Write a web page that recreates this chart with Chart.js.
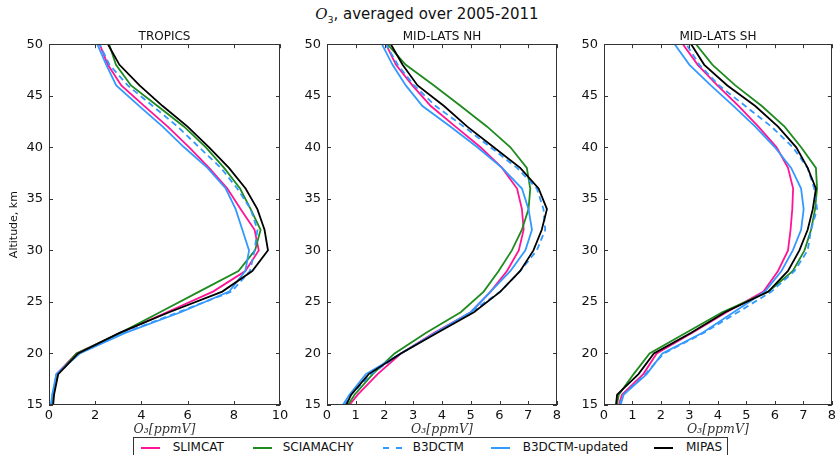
<!DOCTYPE html>
<html>
<head>
<meta charset="utf-8">
<script src="https://cdn.jsdelivr.net/npm/chart.js@4/dist/chart.umd.min.js"></script>
<style>
  html, body { margin: 0; padding: 0; background: #fff; overflow: hidden; }
  body { width: 838px; height: 455px; position: relative; font-family: "DejaVu Sans", sans-serif; }
  canvas { position: absolute; }
  #title { position: absolute; left: 0; width: 854px; top: 5px; text-align: center; font-size: 15px; color: #111; }
  #title i { font-family: "DejaVu Serif", serif; }
  #title sub { font-size: 9px; }
  #legend { position: absolute; left: 133px; top: 437px; width: 593px; height: 24px; border: 1px solid #333; background: #fff; }
  .item { position: absolute; top: 1px; font-size: 12px; color: #111; line-height: 16px; }
  .swatch { position: absolute; top: 9px; width: 19px; height: 0; border-top: 2px solid; }
</style>
</head>
<body>
<div id="title"><i>O</i><sub>3</sub>, averaged over 2005-2011</div>
<canvas id="c1" width="292" height="414" style="left:0px;top:27px"></canvas>
<canvas id="c2" width="282" height="414" style="left:287px;top:27px"></canvas>
<canvas id="c3" width="275" height="414" style="left:564px;top:27px"></canvas>
<div id="legend"></div>
<script>
// altitude levels, km
const altitudes = [15, 16, 18, 20, 22, 24, 26, 28, 30, 32, 34, 36, 38, 40, 42, 44, 46, 48, 50];

// TROPICS, ppmV
const tropicsSlimcat  = [0.11, 0.18, 0.32, 1.19, 3.1, 5.1, 7.1, 8.5, 9.08, 8.9, 8.3, 7.72, 6.93, 6.07, 5.14, 4.13, 3.13, 2.55, 2.19];
const tropicsSciamachy = [0.14, 0.18, 0.37, 1.19, 3.1, 4.8, 6.5, 8.2, 8.92, 9.16, 8.73, 8.27, 7.58, 6.79, 5.85, 4.7, 3.55, 2.9, 2.6];
const tropicsB3dctm   = [0.1, 0.15, 0.35, 1.3, 3.25, 5.6, 7.9, 8.7, 8.9, 9.02, 8.73, 8.15, 7.44, 6.5, 5.57, 4.49, 3.41, 2.62, 2.19];
const tropicsUpdated  = [0.08, 0.14, 0.32, 1.33, 3.3, 5.7, 7.8, 8.5, 8.66, 8.37, 8.08, 7.65, 6.86, 5.85, 4.92, 3.91, 2.91, 2.48, 2.09];
const tropicsMipas    = [0.18, 0.22, 0.4, 1.26, 3.05, 5.2, 7.5, 8.8, 9.48, 9.33, 9.02, 8.51, 7.79, 6.93, 6.0, 4.92, 3.92, 3.05, 2.55];

// MID-LATS NH
const nhSlimcat   = [0.78, 1.07, 1.76, 2.57, 3.73, 5.0, 5.69, 6.26, 6.67, 6.84, 6.78, 6.61, 6.09, 5.34, 4.47, 3.61, 2.97, 2.4, 2.05];
const nhSciamachy = [0.73, 0.96, 1.59, 2.35, 3.45, 4.65, 5.45, 5.97, 6.43, 6.78, 7.01, 7.07, 6.95, 6.38, 5.57, 4.65, 3.72, 2.74, 2.1];
const nhB3dctm    = [0.61, 0.84, 1.53, 2.57, 3.78, 5.0, 6.03, 6.72, 7.3, 7.59, 7.53, 7.3, 6.61, 5.69, 4.76, 3.78, 3.03, 2.46, 2.05];
const nhUpdated   = [0.55, 0.78, 1.35, 2.57, 3.78, 5.0, 5.69, 6.38, 6.9, 7.13, 7.01, 6.78, 6.09, 5.23, 4.3, 3.32, 2.74, 2.28, 1.91];
const nhMipas     = [0.67, 0.84, 1.45, 2.57, 3.84, 5.11, 6.03, 6.72, 7.18, 7.47, 7.65, 7.36, 6.72, 5.8, 4.88, 4.07, 3.15, 2.63, 2.22];

// MID-LATS SH
const shSlimcat   = [0.52, 0.63, 1.38, 1.85, 3.1, 4.3, 5.6, 6.11, 6.46, 6.55, 6.61, 6.64, 6.46, 6.06, 5.42, 4.73, 3.98, 3.29, 2.77];
const shSciamachy = [0.45, 0.52, 1.04, 1.6, 2.88, 4.15, 5.77, 6.63, 7.04, 7.27, 7.41, 7.48, 7.44, 6.92, 6.34, 5.54, 4.61, 3.81, 3.23];
const shB3dctm    = [0.55, 0.68, 1.45, 2.1, 3.5, 4.7, 5.88, 6.69, 7.15, 7.27, 7.48, 7.38, 7.15, 6.63, 5.88, 4.96, 4.04, 3.35, 2.89];
const shUpdated   = [0.58, 0.69, 1.5, 2.05, 3.46, 4.55, 5.65, 6.23, 6.63, 6.92, 7.01, 6.92, 6.57, 6.0, 5.31, 4.55, 3.75, 3.0, 2.48];
const shMipas     = [0.42, 0.46, 1.21, 1.75, 3.06, 4.25, 5.77, 6.46, 6.86, 7.15, 7.33, 7.44, 7.15, 6.75, 6.11, 5.31, 4.33, 3.52, 3.06];

const seriesNames  = ['SLIMCAT', 'SCIAMACHY', 'B3DCTM', 'B3DCTM-updated', 'MIPAS'];
const seriesColors = ['#ff1493', '#1f8a1f', '#3399ff', '#3399ff', '#000000'];
const seriesDashed = [false, false, true, false, false];

// ticks pointing into the plot on all four sides + frame
const innerTicks = {
    id: 'innerTicks',
    afterDraw(chart) {
        const { ctx, chartArea: a, scales } = chart;
        ctx.save();
        ctx.strokeStyle = '#333';
        ctx.lineWidth = 1;
        ctx.beginPath();
        scales.x.ticks.forEach(t => {
            const px = Math.round(scales.x.getPixelForValue(t.value)) + 0.5;
            ctx.moveTo(px, a.top); ctx.lineTo(px, a.top + 4);
            ctx.moveTo(px, a.bottom); ctx.lineTo(px, a.bottom - 4);
        });
        scales.y.ticks.forEach(t => {
            const py = Math.round(scales.y.getPixelForValue(t.value)) + 0.5;
            ctx.moveTo(a.left, py); ctx.lineTo(a.left + 4, py);
            ctx.moveTo(a.right, py); ctx.lineTo(a.right - 4, py);
        });
        ctx.stroke();
        ctx.strokeRect(Math.round(a.left) + 0.5, Math.round(a.top) + 0.5, Math.round(a.width) - 1, Math.round(a.height) - 1);
        ctx.restore();
    }
};

const toPoints = (values) => values.map((v, i) => ({ x: v, y: altitudes[i] }));

const renderPanel = (canvasId, panelTitle, seriesList, xMax, xStep, yWidth, rightPad, showYTitle) => {
    const datasets = seriesList.map((values, i) => ({
        label: seriesNames[i],
        data: toPoints(values),
        showLine: true,
        borderColor: seriesColors[i],
        backgroundColor: seriesColors[i],
        borderWidth: 1.8,
        borderDash: seriesDashed[i] ? [6, 4] : [],
        pointRadius: 0,
        tension: 0,
        order: seriesList.length - i
    }));

    return new Chart(document.getElementById(canvasId), {
        type: 'scatter',
        data: { datasets },
        plugins: [innerTicks],
        options: {
            responsive: false,
            animation: false,
            devicePixelRatio: 1,
            layout: { padding: { left: 0, right: rightPad, top: 0, bottom: 0 } },
            plugins: {
                legend: { display: false },
                tooltip: { enabled: false },
                title: {
                    display: true,
                    text: panelTitle,
                    fullSize: false,
                    color: '#111',
                    font: { family: 'DejaVu Sans', size: 12, weight: 'normal', lineHeight: 1.1 },
                    padding: { top: 3, bottom: 1 }
                }
            },
            scales: {
                x: {
                    type: 'linear',
                    min: 0,
                    max: xMax,
                    grid: { display: false, drawTicks: false },
                    border: { display: false },
                    ticks: { stepSize: xStep, padding: 3, color: '#111', font: { family: 'DejaVu Sans', size: 13 } },
                    title: {
                        display: true,
                        text: 'O₃[ppmV]',
                        color: '#333',
                        font: { family: 'DejaVu Serif', style: 'italic', size: 12.5 },
                        padding: { top: 0, bottom: 4 }
                    },
                    afterFit: (axis) => { axis.height = 36; }
                },
                y: {
                    type: 'linear',
                    min: 15,
                    max: 50,
                    grid: { display: false, drawTicks: false },
                    border: { display: false },
                    ticks: { stepSize: 5, padding: 6, color: '#111', font: { family: 'DejaVu Sans', size: 13 } },
                    title: {
                        display: showYTitle,
                        text: 'Altitude, km',
                        color: '#111',
                        font: { family: 'DejaVu Sans', size: 11 },
                        padding: { top: 8, bottom: 0 }
                    },
                    afterFit: (axis) => { axis.width = yWidth; }
                }
            }
        }
    });
};

renderPanel('c1', 'TROPICS',
    [tropicsSlimcat, tropicsSciamachy, tropicsB3dctm, tropicsUpdated, tropicsMipas], 10, 2, 49, 12, true);
renderPanel('c2', 'MID-LATS NH',
    [nhSlimcat, nhSciamachy, nhB3dctm, nhUpdated, nhMipas], 8, 1, 40, 12, false);
renderPanel('c3', 'MID-LATS SH',
    [shSlimcat, shSciamachy, shB3dctm, shUpdated, shMipas], 8, 1, 40, 5, false);

// shared legend under the panels
const legendSwatchX = [7, 118.7, 248.7, 357, 520];
const legendTextX = [38.7, 148.7, 278.7, 388.7, 552];
const legendBox = document.getElementById('legend');
seriesNames.forEach((name, i) => {
    const sw = document.createElement('div');
    sw.className = 'swatch';
    sw.style.left = legendSwatchX[i] + 'px';
    sw.style.borderTopColor = seriesColors[i];
    if (seriesDashed[i]) sw.style.borderTopStyle = 'dashed';
    legendBox.appendChild(sw);

    const label = document.createElement('div');
    label.className = 'item';
    label.style.left = legendTextX[i] + 'px';
    label.textContent = name;
    legendBox.appendChild(label);
});
</script>
</body>
</html>
